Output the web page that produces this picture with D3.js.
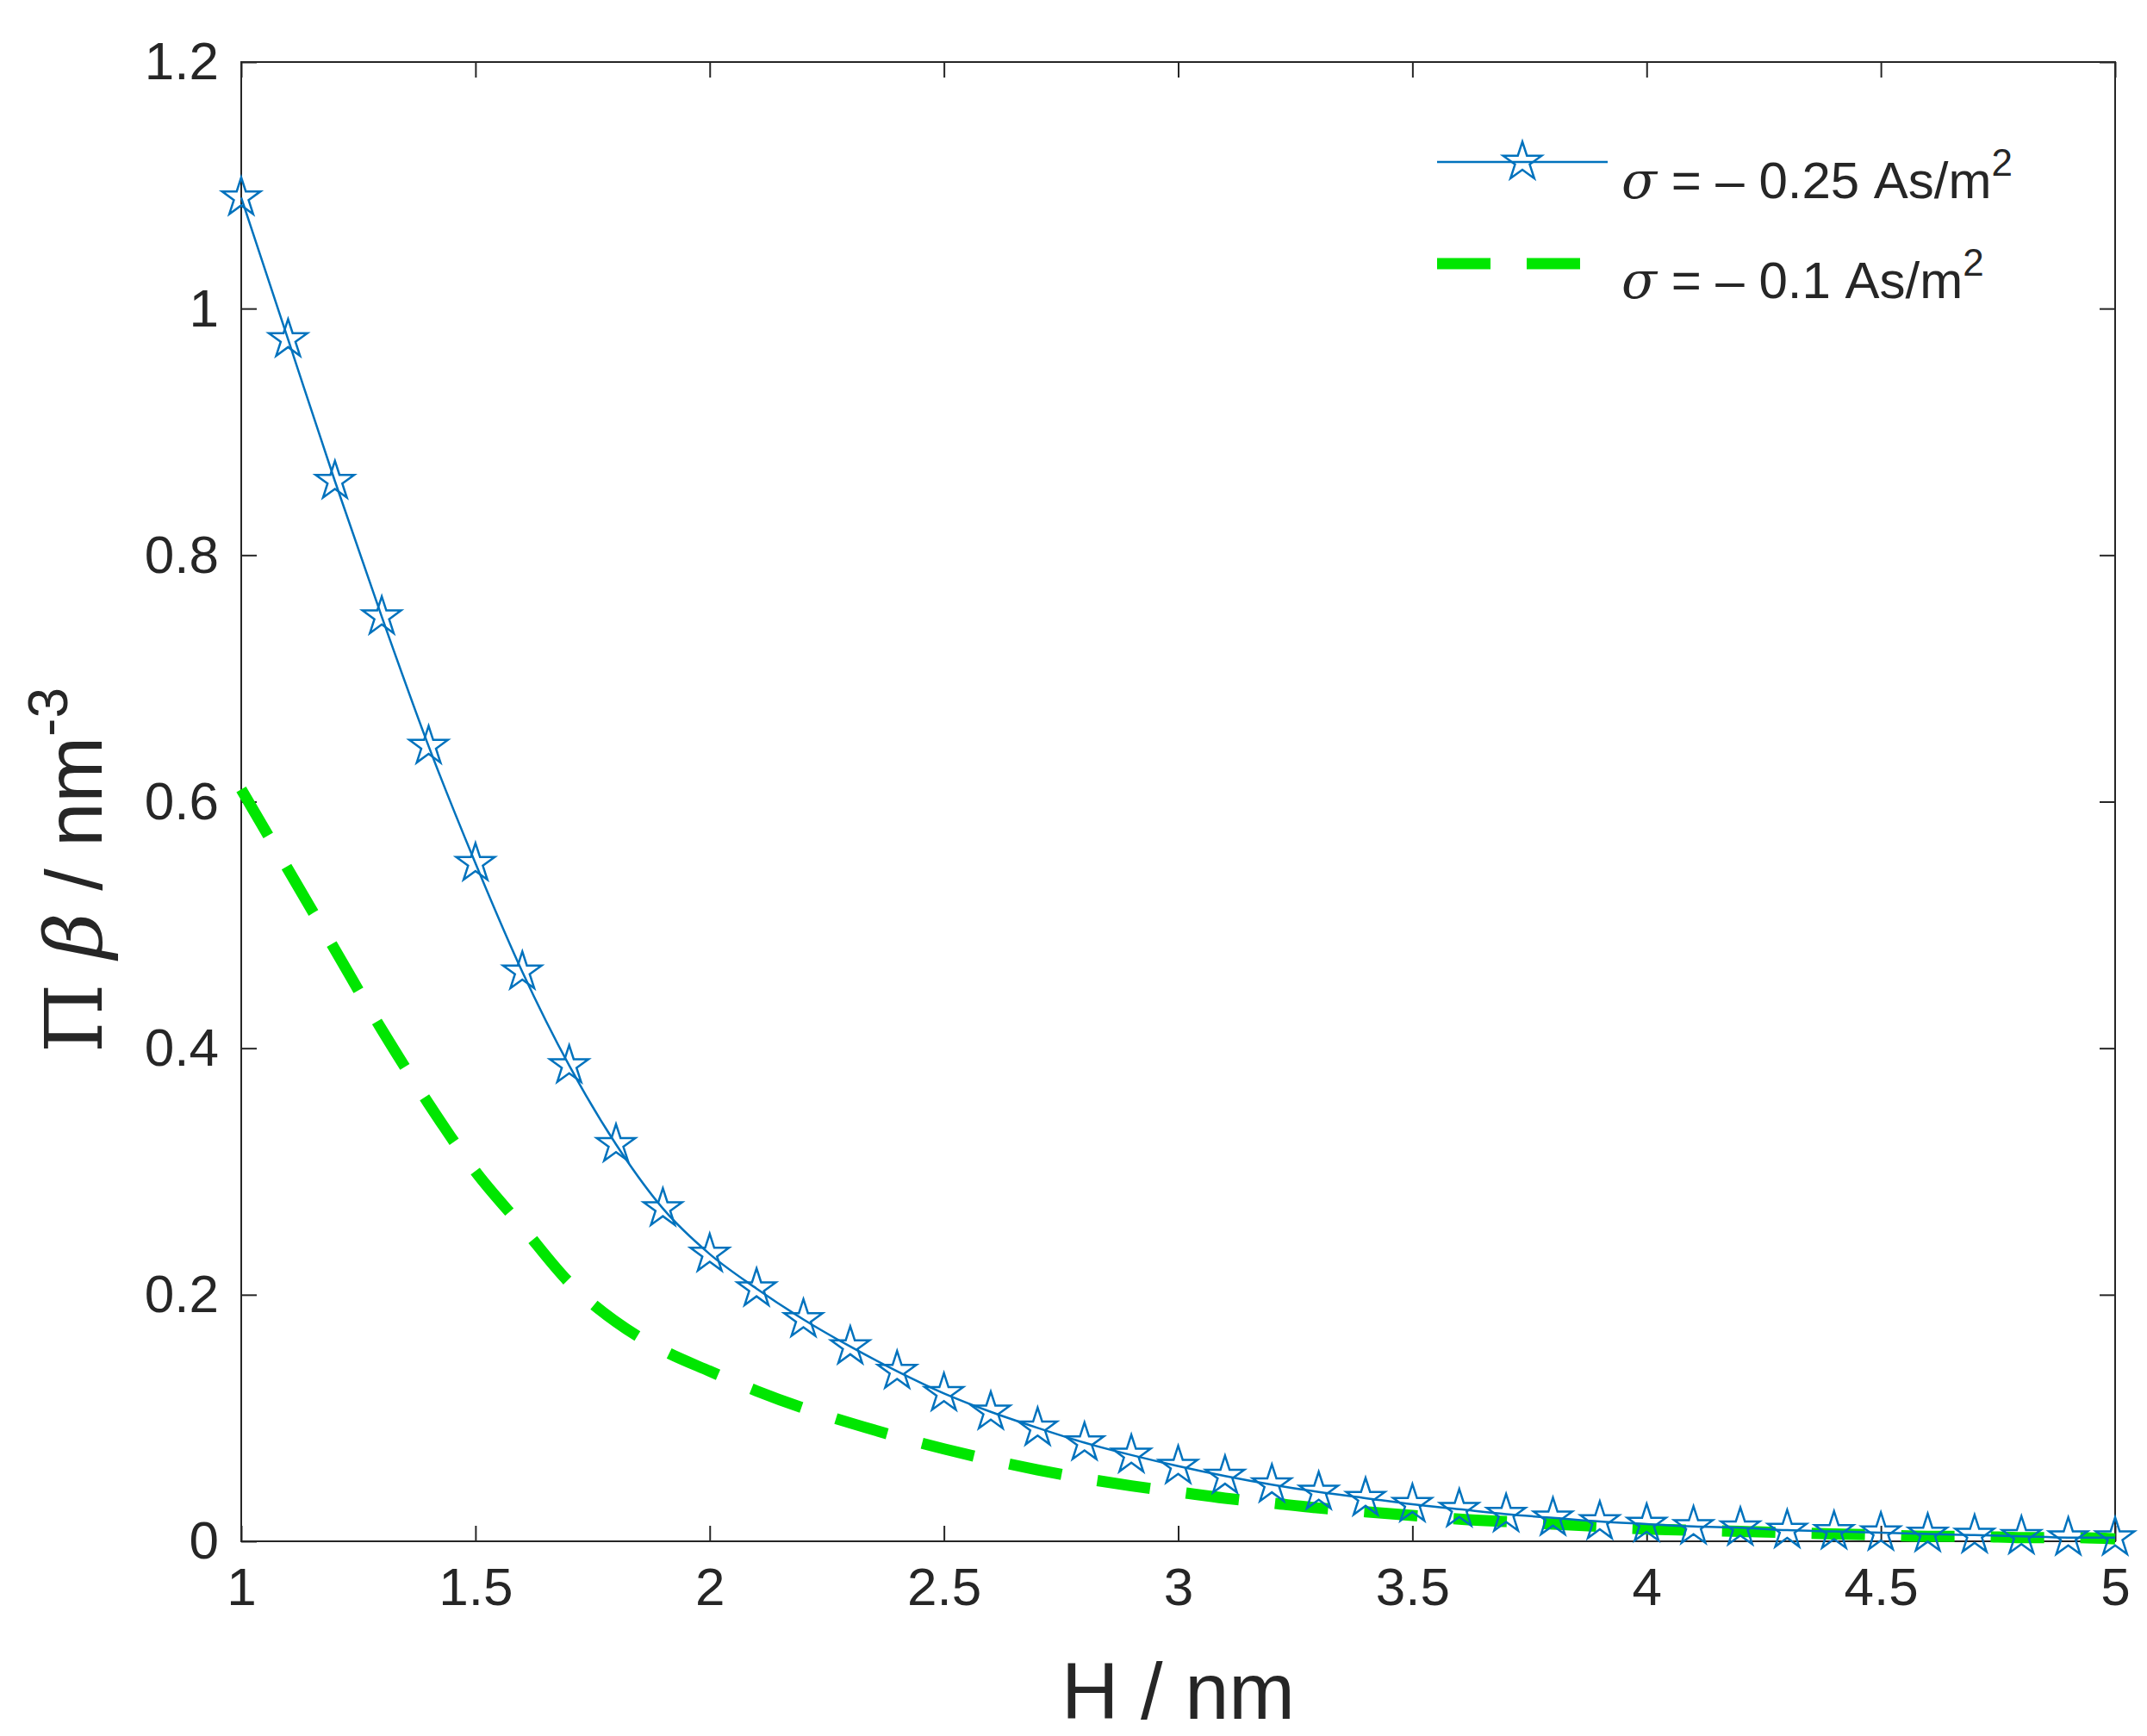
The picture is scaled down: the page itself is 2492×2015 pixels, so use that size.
<!DOCTYPE html>
<html><head><meta charset="utf-8">
<script src="https://cdn.jsdelivr.net/npm/d3@7"></script>
<style>body{margin:0;background:#fff}</style></head>
<body><svg id="c" width="2492" height="2015"></svg>
<script>
const hValues = d3.range(41).map(i => +(1 + i * 0.1).toFixed(1));
const sigma025 = [1.09,0.975,0.86,0.75,0.645,0.55,0.462,0.386,0.322,0.27,0.233,0.205,0.18,0.158,0.138,0.12,0.105,0.092,0.08,0.07,0.061,0.053,0.046,0.04,0.035,0.03,0.026,0.022,0.019,0.016,0.014,0.012,0.011,0.009,0.008,0.007,0.006,0.005,0.004,0.003,0.003];
const sigma01 = [0.61,0.545,0.48,0.415,0.355,0.30,0.255,0.21,0.178,0.155,0.138,0.122,0.108,0.096,0.085,0.075,0.066,0.058,0.051,0.045,0.04,0.035,0.031,0.027,0.024,0.021,0.018,0.016,0.014,0.012,0.01,0.009,0.008,0.007,0.006,0.005,0.004,0.004,0.003,0.003,0.002];
const xTicks = [1,1.5,2,2.5,3,3.5,4,4.5,5];
const yTicks = [0,0.2,0.4,0.6,0.8,1,1.2];

const svg = d3.select("#c");
const L=280,R=2455,T=72,B=1789;
const x=d3.scaleLinear().domain([1,5]).range([L,R]);
const y=d3.scaleLinear().domain([0,1.2]).range([B,T]);
const font="Liberation Sans, Arial, sans-serif";
const tc="#262626";

function fmt(d){return d3.format("")(d);}
svg.append("g").attr("transform",`translate(0,${B})`).call(d3.axisBottom(x).tickValues(xTicks).tickFormat(fmt).tickSizeInner(-18).tickSizeOuter(0).tickPadding(30));
svg.append("g").attr("transform",`translate(${L},0)`).call(d3.axisLeft(y).tickValues(yTicks).tickFormat(fmt).tickSizeInner(-18).tickSizeOuter(0).tickPadding(26));
svg.append("g").attr("transform",`translate(0,${T})`).call(d3.axisTop(x).tickValues(xTicks).tickFormat("").tickSizeInner(-18).tickSizeOuter(0));
svg.append("g").attr("transform",`translate(${R},0)`).call(d3.axisRight(y).tickValues(yTicks).tickFormat("").tickSizeInner(-18).tickSizeOuter(0));
svg.selectAll(".domain").remove();
svg.selectAll(".tick line").attr("stroke",tc).attr("stroke-width",2);
svg.selectAll(".tick text").attr("font-family",font).attr("font-size",62).attr("fill",tc);
svg.append("rect").attr("x",L).attr("y",T).attr("width",R-L).attr("height",B-T).attr("fill","none").attr("stroke",tc).attr("stroke-width",2);

const line=d3.line().x((d,i)=>x(hValues[i])).y(d=>y(d)).curve(d3.curveMonotoneX);
svg.append("path").datum(sigma01).attr("d",line).attr("fill","none").attr("stroke","#00e600").attr("stroke-width",13).attr("stroke-dasharray","62,42");
svg.append("path").datum(sigma025).attr("d",line).attr("fill","none").attr("stroke","#0072BD").attr("stroke-width",2.5);
const star=d3.symbol().type(d3.symbolStar).size(620);
function starAt(g,cx,cy){g.append("path").attr("d",star()).attr("transform",`translate(${cx},${cy})`).attr("fill","none").attr("stroke","#0072BD").attr("stroke-width",2.5);}
const sg=svg.append("g");
sigma025.forEach((d,i)=>starAt(sg,x(hValues[i]),y(d)));

const lg=svg.append("g");
lg.append("line").attr("x1",1668).attr("x2",1866).attr("y1",188).attr("y2",188).attr("stroke","#0072BD").attr("stroke-width",2.5);
starAt(lg,1767,188);
lg.append("line").attr("x1",1668).attr("x2",1866).attr("y1",306).attr("y2",306).attr("stroke","#00e600").attr("stroke-width",13).attr("stroke-dasharray","62,42");
function legText(yy,val){
 const t=lg.append("text").attr("x",1882).attr("y",yy).attr("font-family",font).attr("font-size",60).attr("fill",tc);
 t.append("tspan").attr("font-family","DejaVu Serif, serif").attr("font-style","italic").text("σ");
 t.append("tspan").text(` = – ${val} As/m`);
 t.append("tspan").attr("dy",-26).attr("font-size",44).text("2");
}
legText(230,"0.25");
legText(346,"0.1");

svg.append("text").attr("x",(L+R)/2).attr("y",1995).attr("text-anchor","middle").attr("font-family",font).attr("font-size",92).attr("fill",tc).text("H / nm");
const yl=svg.append("text").attr("transform",`translate(118,1010) rotate(-90)`).attr("text-anchor","middle").attr("font-family",font).attr("font-size",92).attr("fill",tc);
yl.append("tspan").attr("font-family","DejaVu Serif, serif").text("Π ");
yl.append("tspan").attr("font-family","DejaVu Serif, serif").attr("font-style","italic").text("β");
yl.append("tspan").text(" / nm");
yl.append("tspan").attr("dy",-40).attr("font-size",64).text("-3");
</script></body></html>
